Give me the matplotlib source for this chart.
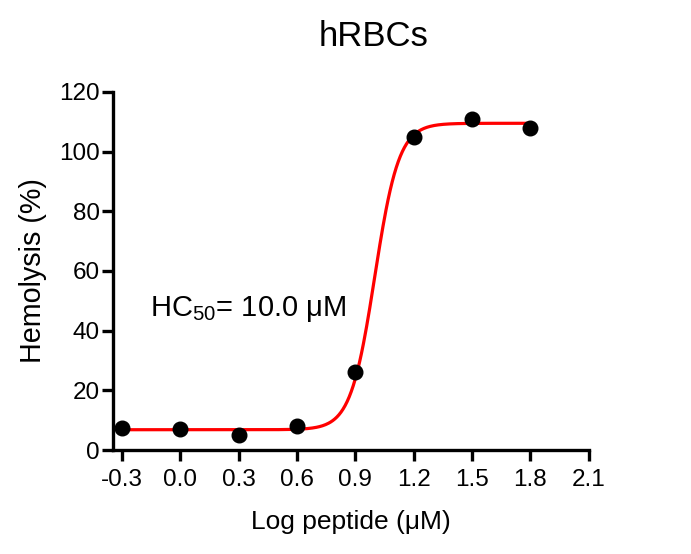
import numpy as np
import matplotlib
matplotlib.use("Agg")
import matplotlib.pyplot as plt

plt.rcParams['font.family'] = ['Liberation Sans', 'DejaVu Sans']
plt.rcParams['mathtext.fontset'] = 'custom'
plt.rcParams['mathtext.rm'] = 'Liberation Sans'
plt.rcParams['mathtext.it'] = 'Liberation Sans:italic'

# Data
log_conc = [-0.3, 0.0, 0.3, 0.6, 0.9, 1.2, 1.5, 1.8]
hemolysis = [7.4, 7.2, 5.0, 8.1, 26.3, 104.9, 111.1, 107.8]

# Fitted sigmoidal parameters (4PL)
fit_bottom = 6.8
fit_top = 109.5
fit_logec50 = 1.0
fit_hill = 7.0

xticks = [-0.3, 0.0, 0.3, 0.6, 0.9, 1.2, 1.5, 1.8, 2.1]
xticklabels = ["-0.3", "0.0", "0.3", "0.6", "0.9", "1.2", "1.5", "1.8", "2.1"]
yticks = [0, 20, 40, 60, 80, 100, 120]

fig = plt.figure(figsize=(6.91, 5.54), dpi=100)
ax = fig.add_axes([0.1635, 0.1877, 0.852 - 0.1635, 0.834 - 0.1877])

xs = np.linspace(min(log_conc), max(log_conc), 400)
ys = fit_bottom + (fit_top - fit_bottom) / (1 + 10 ** ((fit_logec50 - xs) * fit_hill))
ax.plot(xs, ys, color='#ff0000', lw=2.3, zorder=2)
ax.plot(log_conc, hemolysis, 'o', color='black', ms=10.5, zorder=3, clip_on=False)

ax.set_xlim(-0.346, 2.1)
ax.set_ylim(0, 120)
ax.set_xticks(xticks)
ax.set_xticklabels(xticklabels)
ax.set_yticks(yticks)

for s in ['top', 'right']:
    ax.spines[s].set_visible(False)
for s in ['left', 'bottom']:
    ax.spines[s].set_linewidth(2.4)
ax.tick_params(width=2.4, length=8, labelsize=17.5)
ax.tick_params(axis='x', pad=6)
ax.tick_params(axis='y', pad=1.5)

ax.set_xlabel("Log peptide (μM)", fontsize=19)
ax.xaxis.set_label_coords(0.5, -0.168)
ax.set_ylabel("Hemolysis (%)", fontsize=20.7)
ax.yaxis.set_label_coords(-0.139, 0.5)
fig.text(0.541, 0.935, "hRBCs", fontsize=25, ha='center', va='center')

ax.text(-0.156, 44.9, "HC$_{50}$= 10.0 μM", fontsize=21, ha='left', va='baseline')

fig.savefig("out.png", dpi=100)
